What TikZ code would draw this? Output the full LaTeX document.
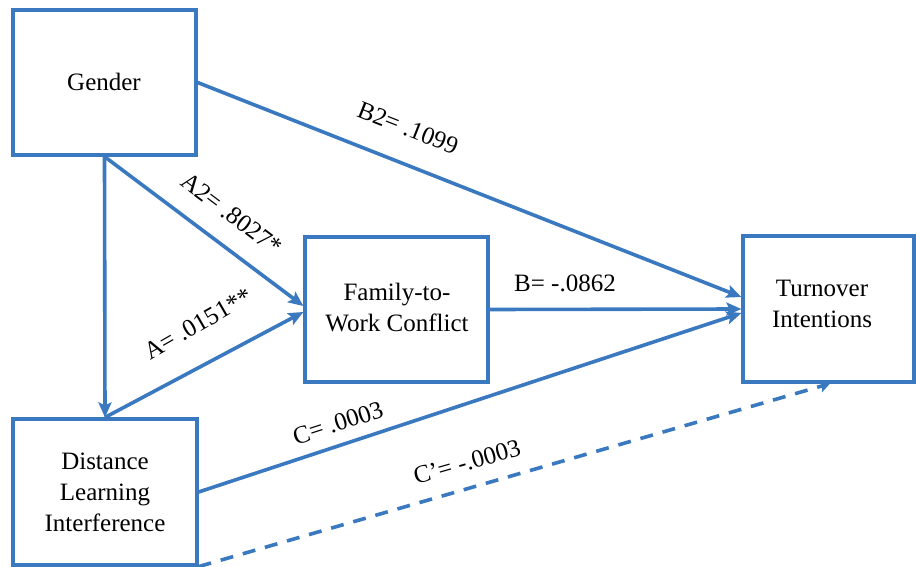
\documentclass[tikz,border=0pt]{standalone}
\usepackage{fontspec}
\setmainfont{Liberation Serif}
\usetikzlibrary{arrows.meta}
\definecolor{pathblue}{RGB}{58,121,191}
\begin{document}
\begin{tikzpicture}[x=1pt,y=-1pt,
  varbox/.style={draw=pathblue,line width=3.2pt,rectangle,inner sep=0pt},
  boxtext/.style={align=center,font=\fontsize{25}{31}\selectfont,inner sep=0pt},
  coef/.style={font=\fontsize{25}{30}\selectfont,inner sep=0pt},
  path/.style={draw=pathblue,line width=3.6pt,-{Stealth[length=15pt,width=13pt,inset=3pt]}},
  dpath/.style={draw=pathblue,line width=3.6pt,dash pattern=on 13pt off 10pt,-{Stealth[length=10pt,width=12pt,inset=2pt]}}]
\useasboundingbox (0,0) rectangle (916,567);

% variable boxes
\node[varbox,minimum width=183pt,minimum height=145pt] (gen) at (104.5,82.5) {};
\node[varbox,minimum width=184pt,minimum height=146pt] (dli) at (105,492) {};
\node[varbox,minimum width=183pt,minimum height=145pt] (fwc) at (396.5,309.5) {};
\node[varbox,minimum width=171pt,minimum height=146pt] (toi) at (828.5,309) {};

% box texts
\node[boxtext] (genT) at (104,82) {Gender};
\node[boxtext] (dliT) at (105,492) {Distance\\Learning\\Interference};
\node[boxtext] (fwcT) at (397,308) {Family-to-\\Work Conflict};
\node[boxtext] (toiT) at (822,304) {Turnover\\Intentions};

% paths
\draw[path] (gen.south) -- (dli.north);
\draw[path] (gen.south) -- ([yshift=3.5pt]fwc.west);
\draw[path] (dli.north) -- ([yshift=-2.5pt]fwc.west);
\draw[path] (gen.east) -- ([yshift=12pt]toi.west);
\draw[path] (fwc.east) -- (toi.west);
\draw[path] (dli.east) -- ([yshift=-4pt]toi.west);
\draw[dpath] (dli.south east) -- ([xshift=1.5pt]toi.south);

% coefficients
\node[coef,rotate=-21.4] (b2) at (408,128) {B2= .1099};
\node[coef,rotate=-37] (a2) at (232,214) {A2= .8027*};
\node[coef,rotate=30] (a) at (198,324) {A= .0151**};
\node[coef] (b) at (565,283) {B= -.0862};
\node[coef,rotate=18] (c) at (338,423) {C= .0003};
\node[coef,rotate=16] (cp) at (467,462) {C’= -.0003};
\end{tikzpicture}
\end{document}
